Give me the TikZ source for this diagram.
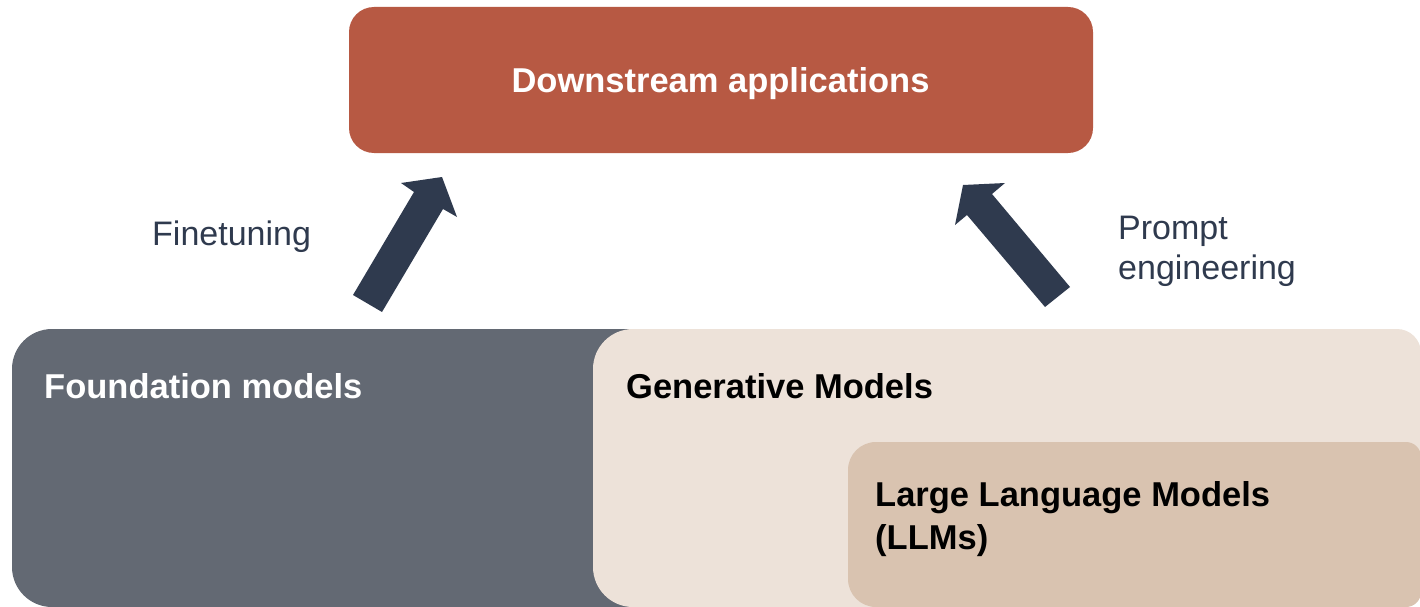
\documentclass[tikz,border=0pt]{standalone}
\usepackage{fontspec}
\setmainfont{Liberation Sans}
\definecolor{downc}{HTML}{B75943}
\definecolor{arrowc}{HTML}{2F3A4E}
\definecolor{foundc}{HTML}{636973}
\definecolor{genc}{HTML}{EDE2D9}
\definecolor{llmc}{HTML}{D9C3B0}
\definecolor{labc}{HTML}{2F3A4E}
\tikzset{
  boldlbl/.style={inner sep=0pt, font=\fontsize{34.5}{43}\selectfont\bfseries, align=left},
  plainlbl/.style={inner sep=0pt, text=labc, font=\fontsize{34}{40}\selectfont, align=left},
  blockarrow/.style={fill=arrowc, draw=none},
}
\begin{document}
\begin{tikzpicture}[x=1pt,y=-1pt]
\useasboundingbox (0,0) rectangle (1420,607);
% Downstream box
\fill[downc, rounded corners=25pt] (349,7) rectangle (1093,153);
\node[boldlbl, text=white, anchor=base] (down) at (720.5,93) {Downstream applications};
% Foundation box
\fill[foundc, rounded corners=40pt] (12,329) rectangle (760,607);
% Generative box
\fill[genc] (593,369) arc[start angle=180,end angle=270,radius=40]
  -- (1397,329) arc[start angle=270,end angle=360,radius=24]
  -- (1421,583) arc[start angle=0,end angle=90,radius=24]
  -- (633,607) arc[start angle=90,end angle=180,radius=40] -- cycle;
% LLM box
\fill[llmc] (848,470) arc[start angle=180,end angle=270,radius=28]
  -- (1406,442) arc[start angle=270,end angle=360,radius=15]
  -- (1421,592) arc[start angle=0,end angle=90,radius=15]
  -- (876,607) arc[start angle=90,end angle=180,radius=28] -- cycle;
% Labels
\node[boldlbl, text=white, anchor=base west] (found) at (44,398) {Foundation models};
\node[boldlbl, text=black, anchor=base west] (gen) at (626,398) {Generative Models};
\node[boldlbl, text=black, anchor=base west] (llm) at (875,549) {Large Language Models\\(LLMs)};
\node[plainlbl, anchor=base west] (fine) at (152,245) {Finetuning};
\node[plainlbl, anchor=base west] (prompt) at (1118,279) {Prompt\\engineering};
% Block arrows
\fill[blockarrow] (353,295) -- (414,192) -- (401,183) -- (442,177) -- (457,217) -- (443,209) -- (382,312) -- cycle;
\fill[blockarrow] (1070,287) -- (992,194) -- (1005,183) -- (963,185) -- (955,225) -- (967,215) -- (1045,307) -- cycle;
\end{tikzpicture}
\end{document}
